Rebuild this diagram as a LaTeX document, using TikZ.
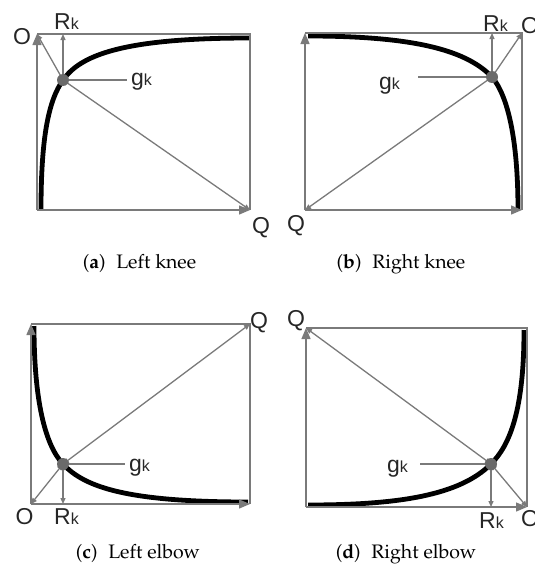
\documentclass[tikz,border=0pt]{standalone}
\usepackage[T1]{fontenc}
\usepackage{fontspec}
\usetikzlibrary{arrows.meta}
\newfontfamily\labfont{Liberation Sans}
\newcommand\capfont{\fontencoding{T1}\fontfamily{ppl}\fontsize{19.5}{22}\selectfont}
\newcommand\biglab[1]{{\labfont\fontsize{23}{26}\selectfont #1}}
\newcommand\subk{{\labfont\fontsize{16}{18}\selectfont k}}
\definecolor{lgray}{HTML}{7A7A7A}
\definecolor{dgray}{HTML}{6A6A6A}
\tikzset{
  gline/.style={draw=lgray, line width=1.3pt},
  axisarr/.style={gline, -{Triangle[length=11pt,width=9pt]}},
  sarr/.style={gline, -{Triangle[length=6pt,width=5pt]}},
  darr/.style={gline, {Triangle[length=6pt,width=5pt]}-{Triangle[length=6pt,width=5pt]}},
  curve/.style={draw=black, line width=4.8pt},
  gdot/.style={circle, fill=dgray, minimum size=12pt, inner sep=0pt},
  lab/.style={inner sep=0pt, anchor=base, text=black!85},
  labw/.style={inner sep=0pt, anchor=base west, text=black!85},
  capt/.style={inner sep=0pt, anchor=base}
}
\begin{document}
\begin{tikzpicture}[x=1pt,y=-1pt]
\useasboundingbox (0,0) rectangle (535,570);
% ---------- (a) Left knee ----------
\coordinate (a-bl) at (37,210);
\coordinate (a-tl) at (37,34);
\coordinate (a-tr) at (250,34);
\coordinate (a-br) at (250,210);
\coordinate (a-g) at (63,80);
\coordinate (a-le) at (127,80);
\draw[curve] (41,210) .. controls (41,135) and (49,100) .. (a-g)
  .. controls (80,56) and (120,38) .. (250,38);
\draw[gline] (a-tl) -- (a-tr) -- (a-br);
\draw[axisarr] (a-bl) -- (a-tl);
\draw[axisarr] (a-bl) -- (a-br);
\draw[sarr] (a-g) -- (a-g |- a-tl);
\draw[sarr] (a-g) -- (a-tl);
\draw[sarr] (a-g) -- (a-br);
\draw[gline] (a-g) -- (a-le);
\node[gdot] (a-dot) at (a-g) {};
\node[lab] (a-O) at (22,44) {\biglab{O}};
\node[labw] (a-R) at (54,29) {\biglab{R}\subk};
\node[labw] (a-gk) at (131,85) {\biglab{g}\subk};
\node[lab] (a-Q) at (261,233) {\biglab{Q}};
\node[capt] (a-cap) at (139.5,268) {\capfont(\textbf{a})\hspace{0.55em}Left knee};
% ---------- (b) Right knee ----------
\coordinate (b-bl) at (305,210);
\coordinate (b-tl) at (305,33);
\coordinate (b-tr) at (522,33);
\coordinate (b-br) at (522,210);
\coordinate (b-g) at (492,77);
\coordinate (b-le) at (418,77);
\draw[curve] (308,36) .. controls (420,36) and (468,52) .. (b-g)
  .. controls (508,96) and (518,140) .. (518,210);
\draw[gline] (b-tl) -- (b-tr) -- (b-br);
\draw[axisarr] (b-bl) -- (b-tl);
\draw[axisarr] (b-bl) -- (b-br);
\draw[sarr] (b-g) -- (b-g |- b-tl);
\draw[sarr] (b-g) -- (b-tr);
\draw[sarr] (b-g) -- (b-bl);
\draw[gline] (b-g) -- (b-le);
\node[gdot] (b-dot) at (b-g) {};
\node[labw] (b-O) at (521,33) {\biglab{O}};
\node[labw] (b-R) at (483,31) {\biglab{R}\subk};
\node[labw] (b-gk) at (379,89) {\biglab{g}\subk};
\node[lab] (b-Q) at (296,231) {\biglab{Q}};
\node[capt] (b-cap) at (401,268) {\capfont(\textbf{b})\hspace{0.55em}Right knee};
% ---------- (c) Left elbow ----------
\coordinate (c-bl) at (31,504);
\coordinate (c-tl) at (31,324);
\coordinate (c-tr) at (250,324);
\coordinate (c-br) at (250,504);
\coordinate (c-g) at (63,464);
\coordinate (c-le) at (125,464);
\draw[curve] (34,326) .. controls (34,400) and (45,445) .. (c-g)
  .. controls (85,488) and (130,502) .. (248,502);
\draw[gline] (c-tl) -- (c-tr) -- (c-br);
\draw[axisarr] (c-bl) -- (c-tl);
\draw[axisarr] (c-bl) -- (c-br);
\draw[darr] (c-g) -- (c-g |- c-bl);
\draw[darr] (c-g) -- (c-bl);
\draw[darr] (c-g) -- (c-tr);
\draw[gline] (c-g) -- (c-le);
\node[gdot] (c-dot) at (c-g) {};
\node[lab] (c-O) at (24.5,524) {\biglab{O}};
\node[labw] (c-R) at (54,524) {\biglab{R}\subk};
\node[labw] (c-gk) at (129,471) {\biglab{g}\subk};
\node[lab] (c-Q) at (259,328) {\biglab{Q}};
\node[capt] (c-cap) at (138,558) {\capfont(\textbf{c})\hspace{0.55em}Left elbow};
% ---------- (d) Right elbow ----------
\coordinate (d-bl) at (306,507);
\coordinate (d-tl) at (306,328);
\coordinate (d-tr) at (527,328);
\coordinate (d-br) at (527,507);
\coordinate (d-g) at (491,464);
\coordinate (d-le) at (420,464);
\draw[curve] (524,330) .. controls (524,410) and (510,445) .. (d-g)
  .. controls (460,495) and (400,505) .. (308,505);
\draw[gline] (d-tl) -- (d-tr) -- (d-br);
\draw[axisarr] (d-bl) -- (d-tl);
\draw[axisarr] (d-bl) -- (d-br);
\draw[darr] (d-g) -- (d-g |- d-bl);
\draw[darr] (d-g) -- (d-br);
\draw[darr] (d-g) -- (d-tl);
\draw[gline] (d-g) -- (d-le);
\node[gdot] (d-dot) at (d-g) {};
\node[lab] (d-Q) at (296,326) {\biglab{Q}};
\node[labw] (d-R) at (479,528) {\biglab{R}\subk};
\node[labw] (d-gk) at (387,472) {\biglab{g}\subk};
\node[labw] (d-O) at (521,526) {\biglab{O}};
\node[capt] (d-cap) at (406,558) {\capfont(\textbf{d})\hspace{0.55em}Right elbow};
\end{tikzpicture}
\end{document}
